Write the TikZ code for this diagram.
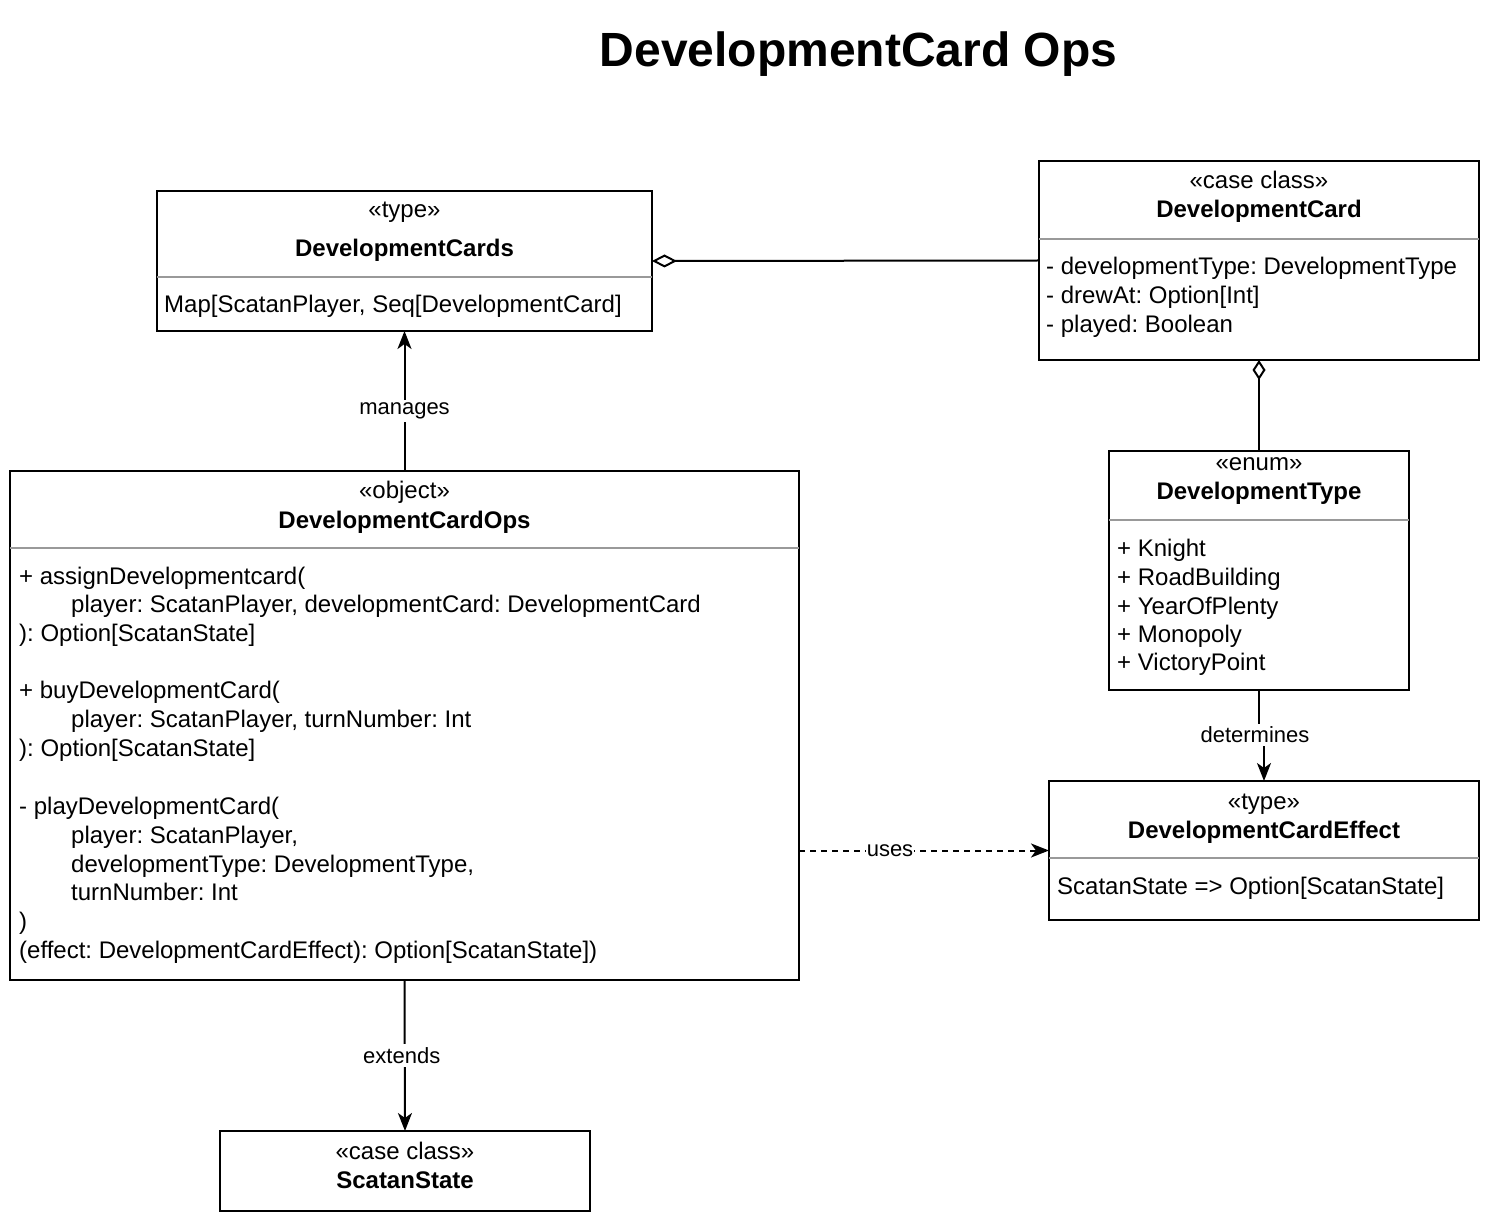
\documentclass[tikz,border=0pt]{standalone}
\usepackage{fontspec}
\setmainfont{Liberation Sans}
\usetikzlibrary{arrows.meta}
\frenchspacing
\begin{document}
\begin{tikzpicture}[x=1pt,y=-1pt,
  every node/.style={font=\fontsize{24}{29}\selectfont},
  umlbox/.style={draw=black, line width=2pt, inner sep=0pt, outer sep=0pt, rectangle},
  sep/.style={draw=black!40, line width=1.5pt},
  ctr/.style={anchor=base, inner sep=0pt},
  lt/.style={anchor=base west, inner sep=0pt},
  conn/.style={draw=black, line width=2pt},
  arr/.style={conn, -{Stealth[length=18pt,width=14pt,inset=5pt]}},
  lbl/.style={fill=white, inner sep=3pt, font=\fontsize{22}{26}\selectfont}
]
\useasboundingbox (0,0) rectangle (1492,1222);
\fill[white] (0,0) rectangle (1492,1222);

% title
\node[ctr, font=\fontsize{48}{56}\selectfont\bfseries] (title) at (858.5,67) {DevelopmentCard Ops};

% DevelopmentCards
\node[umlbox, minimum width=495pt, minimum height=140pt] (dcs) at (404.5,261) {};
\draw[sep] (dcs.west |- 0,277) -- (dcs.east |- 0,277);
\node[ctr] (dcsS) at (404.5,218) {«type»};
\node[ctr, font=\fontsize{24}{29}\selectfont\bfseries] (dcsN) at (404.5,257) {DevelopmentCards};
\node[lt] (dcsA) at (164,313) {Map[ScatanPlayer, Seq[DevelopmentCard]};

% DevelopmentCard
\node[umlbox, minimum width=440pt, minimum height=199pt] (dc) at (1259,260.5) {};
\draw[sep] (dc.west |- 0,239) -- (dc.east |- 0,239);
\node[ctr] (dcS) at (1259,189) {«case class»};
\node[ctr, font=\fontsize{24}{29}\selectfont\bfseries] (dcN) at (1259,218) {DevelopmentCard};
\node[lt] (dcA1) at (1046,275) {- developmentType: DevelopmentType};
\node[lt] (dcA2) at (1046,304) {- drewAt: Option[Int]};
\node[lt] (dcA3) at (1046,333) {- played: Boolean};

% DevelopmentCardOps
\node[umlbox, minimum width=789pt, minimum height=509pt] (ops) at (404.5,725.5) {};
\draw[sep] (ops.west |- 0,548) -- (ops.east |- 0,548);
\node[ctr] (opsS) at (404.5,499) {«object»};
\node[ctr, font=\fontsize{24}{29}\selectfont\bfseries] (opsN) at (404.5,528) {DevelopmentCardOps};
\node[lt] (ops1) at (19,584) {+ assignDevelopmentcard(};
\node[lt] (ops2) at (71,612) {player: ScatanPlayer, developmentCard: DevelopmentCard};
\node[lt] (ops3) at (19,641) {): Option[ScatanState]};
\node[lt] (ops4) at (19,698) {+ buyDevelopmentCard(};
\node[lt] (ops5) at (71,727) {player: ScatanPlayer, turnNumber: Int};
\node[lt] (ops6) at (19,756) {): Option[ScatanState]};
\node[lt] (ops7) at (19,814) {- playDevelopmentCard(};
\node[lt] (ops8) at (71,843) {player: ScatanPlayer,};
\node[lt] (ops9) at (71,872) {developmentType: DevelopmentType,};
\node[lt] (ops10) at (71,900) {turnNumber: Int};
\node[lt] (ops11) at (19,929) {)};
\node[lt] (ops12) at (19,958) {(effect: DevelopmentCardEffect): Option[ScatanState])};

% DevelopmentType
\node[umlbox, minimum width=300pt, minimum height=239pt] (dt) at (1259,570.5) {};
\draw[sep] (dt.west |- 0,520) -- (dt.east |- 0,520);
\node[ctr] (dtS) at (1259,471) {«enum»};
\node[ctr, font=\fontsize{24}{29}\selectfont\bfseries] (dtN) at (1259,500) {DevelopmentType};
\node[lt] (dt1) at (1117,556) {+ Knight};
\node[lt] (dt2) at (1117,585) {+ RoadBuilding};
\node[lt] (dt3) at (1117,614) {+ YearOfPlenty};
\node[lt] (dt4) at (1117,642) {+ Monopoly};
\node[lt] (dt5) at (1117,670) {+ VictoryPoint};

% DevelopmentCardEffect
\node[umlbox, minimum width=430pt, minimum height=139pt] (dce) at (1264,850.5) {};
\draw[sep] (dce.west |- 0,858) -- (dce.east |- 0,858);
\node[ctr] (dceS) at (1264,809) {«type»};
\node[ctr, font=\fontsize{24}{29}\selectfont\bfseries] (dceN) at (1264,838) {DevelopmentCardEffect};
\node[lt] (dceA) at (1057,894) {ScatanState => Option[ScatanState]};

% ScatanState
\node[umlbox, minimum width=370pt, minimum height=80pt] (ss) at (405,1171) {};
\node[ctr] (ssS) at (405,1159) {«case class»};
\node[ctr, font=\fontsize{24}{29}\selectfont\bfseries] (ssN) at (405,1188) {ScatanState};

% connectors
\draw[conn, {Diamond[open,length=25pt,width=13pt]}-] (dcs.east) -- (dc.west);
\draw[conn, {Diamond[open,length=20pt,width=13pt]}-] (dc.south) -- (dt.north);
\draw[arr] (ops.north) -- node[lbl, pos=0.43] (lmanages) {manages} (dcs.south);
\draw[arr] (ops.south) -- node[lbl, pos=0.5, xshift=-3pt] (lextends) {extends} (ss.north);
\draw[arr, dash pattern=on 6pt off 5pt] (dce.west -| ops.east) -- node[lbl, pos=0.364, inner sep=1pt] (luses) {uses} (dce.west);
\coordinate (jog) at (1259,735);
\draw[arr] (dt.south) -- (jog) -| (dce.north);
\node[lbl] (ldet) at (1255,735) {determines};
\end{tikzpicture}
\end{document}
